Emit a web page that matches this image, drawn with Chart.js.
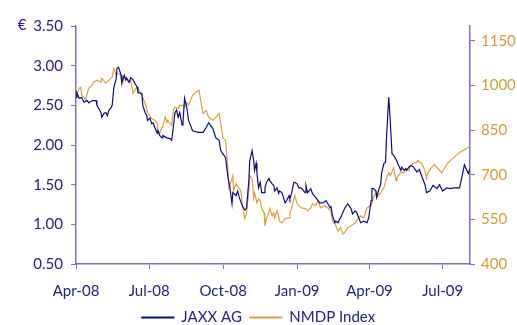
<!DOCTYPE html>
<html>
<head>
<meta charset="utf-8">
<script src="https://cdn.jsdelivr.net/npm/chart.js@4.4.1/dist/chart.umd.min.js"></script>
<style>
html, body { margin: 0; padding: 0; background: #fff; }
</style>
</head>
<body>
<canvas id="chart" width="517" height="325"></canvas>
<script>
// x values are days since 1 Apr 2008
const quarterDays = [0, 91, 183, 275, 365, 456]
const quarterLabels = ['Apr-08', 'Jul-08', 'Oct-08', 'Jan-09', 'Apr-09', 'Jul-09']
const priceTicks = [0.5, 1, 1.5, 2, 2.5, 3, 3.5]
const indexTicks = [400, 550, 700, 850, 1000, 1150]

const jaxxDays = [
    0, 1, 4, 7, 10, 14, 16, 20, 25, 26,
    31, 32, 35, 37, 39, 41, 43, 45, 47, 50,
    51, 53, 56, 57, 60, 62, 63, 66, 68, 71,
    76, 77, 82, 83, 86, 88, 89, 92, 94, 96,
    98, 101, 102, 104, 107, 108, 113, 117, 119, 121,
    123, 125, 127, 129, 132, 133, 135, 138, 140, 145,
    152, 158, 162, 165, 170, 174, 178, 180, 184, 186,
    189, 191, 194, 195, 199, 201, 203, 207, 210, 212,
    215, 216, 219, 221, 222, 224, 225, 227, 229, 231,
    234, 235, 237, 240, 241, 244, 246, 247, 250, 252,
    253, 256, 258, 260, 262, 265, 266, 268, 271, 272,
    275, 277, 280, 285, 286, 288, 292, 294, 298, 303,
    307, 311, 316, 317, 319, 322, 323, 326, 328, 329,
    334, 338, 340, 342, 344, 347, 349, 352, 354, 358,
    362, 364, 367, 368, 370, 373, 374, 376, 379, 380,
    383, 385, 386, 388, 389, 391, 393, 395, 399, 400,
    404, 405, 408, 410, 411, 414, 416, 419, 424, 427,
    431, 434, 436, 440, 444, 449, 452, 456, 461, 465,
    471, 477, 481, 483, 486, 488, 490
]
const jaxxPrice = [
    2.60, 2.66, 2.59, 2.60, 2.54, 2.56, 2.53, 2.56, 2.56, 2.50,
    2.41, 2.35, 2.40, 2.41, 2.37, 2.44, 2.46, 2.50, 2.72, 2.84,
    2.97, 2.98, 2.88, 2.79, 2.88, 2.82, 2.84, 2.79, 2.85, 2.82,
    2.73, 2.66, 2.65, 2.50, 2.41, 2.37, 2.31, 2.34, 2.27, 2.28,
    2.22, 2.15, 2.18, 2.12, 2.09, 2.12, 2.09, 2.08, 2.06, 2.22,
    2.40, 2.44, 2.35, 2.41, 2.25, 2.27, 2.59, 2.46, 2.31, 2.18,
    2.16, 2.16, 2.22, 2.28, 2.21, 2.09, 2.06, 1.93, 1.87, 1.84,
    1.59, 1.49, 1.26, 1.40, 1.36, 1.42, 1.34, 1.23, 1.18, 1.20,
    1.55, 1.80, 1.93, 1.80, 1.68, 1.77, 1.65, 1.46, 1.53, 1.40,
    1.40, 1.46, 1.53, 1.58, 1.55, 1.51, 1.49, 1.42, 1.46, 1.39,
    1.42, 1.40, 1.34, 1.27, 1.30, 1.36, 1.32, 1.39, 1.53, 1.53,
    1.51, 1.46, 1.46, 1.40, 1.49, 1.40, 1.45, 1.39, 1.34, 1.27,
    1.27, 1.30, 1.21, 1.23, 1.11, 1.02, 1.04, 1.02, 1.07, 1.08,
    1.20, 1.26, 1.23, 1.20, 1.13, 1.17, 1.15, 1.07, 1.02, 1.04,
    1.02, 1.08, 1.30, 1.45, 1.45, 1.42, 1.34, 1.42, 1.51, 1.64,
    1.77, 1.78, 2.06, 2.44, 2.60, 2.27, 1.89, 1.87, 1.80, 1.77,
    1.68, 1.72, 1.68, 1.70, 1.68, 1.72, 1.74, 1.73, 1.66, 1.69,
    1.58, 1.50, 1.40, 1.42, 1.49, 1.45, 1.50, 1.42, 1.46, 1.45,
    1.46, 1.46, 1.65, 1.75, 1.68, 1.64, 1.70
]

const nmdpDays = [
    0, 1, 4, 6, 7, 10, 12, 14, 16, 20,
    22, 26, 31, 32, 37, 41, 43, 45, 47, 50,
    51, 56, 57, 60, 63, 66, 68, 71, 73, 76,
    80, 83, 86, 89, 94, 98, 101, 102, 104, 107,
    108, 111, 113, 114, 117, 119, 121, 123, 127, 129,
    133, 135, 138, 140, 145, 149, 153, 155, 158, 162,
    165, 170, 174, 178, 180, 183, 186, 189, 190, 193,
    195, 196, 199, 203, 205, 207, 210, 212, 215, 216,
    219, 221, 222, 225, 227, 229, 231, 234, 235, 237,
    240, 241, 244, 246, 247, 250, 252, 253, 256, 258,
    260, 265, 266, 268, 271, 272, 275, 277, 280, 285,
    288, 292, 294, 298, 301, 304, 309, 313, 317, 319,
    322, 326, 329, 332, 334, 338, 342, 347, 349, 354,
    358, 362, 367, 370, 373, 374, 379, 383, 386, 389,
    391, 395, 398, 399, 404, 408, 410, 414, 416, 419,
    424, 425, 430, 434, 436, 437, 442, 446, 450, 455,
    458, 462, 467, 471, 477, 481, 486, 490
]
const nmdpIndex = [
    974, 967, 991, 994, 967, 960, 950, 974, 991, 1001,
    1011, 1018, 1011, 1024, 1008, 1018, 1024, 1028, 1058, 1035,
    1041, 1035, 1001, 1024, 1028, 1011, 1018, 974, 984, 994,
    977, 960, 940, 910, 889, 883, 873, 849, 839, 859,
    866, 893, 876, 883, 873, 866, 916, 927, 923, 933,
    933, 927, 943, 933, 967, 977, 984, 950, 906, 916,
    893, 883, 893, 906, 873, 822, 815, 714, 657, 680,
    697, 646, 670, 653, 646, 596, 552, 572, 646, 697,
    687, 623, 640, 606, 619, 613, 586, 572, 528, 555,
    572, 586, 562, 572, 555, 579, 562, 545, 538, 545,
    552, 555, 572, 586, 619, 630, 603, 596, 589, 586,
    579, 589, 603, 596, 613, 589, 596, 589, 579, 545,
    535, 511, 522, 501, 505, 522, 528, 538, 545, 562,
    555, 589, 596, 623, 640, 623, 640, 657, 687, 707,
    697, 724, 680, 690, 707, 707, 721, 714, 731, 738,
    741, 748, 738, 714, 687, 704, 724, 734, 721, 707,
    721, 738, 751, 761, 775, 781, 788, 798
]

const navy = '#0c0c86'
const gold = '#d9a23e'
const navyText = '#22228c'
const goldText = '#d39c3a'
const axisColor = '#7474c2'
const fontFamily = 'Lato, "Open Sans", sans-serif'

function toPoints(xs, ys) {
    return xs.map((d, i) => ({ x: d, y: ys[i] }))
}

// euro sign over the left axis
const euroLabel = {
    id: 'euroLabel',
    afterDraw(chart) {
        const ctx = chart.ctx
        ctx.save()
        ctx.font = '15px ' + fontFamily
        ctx.fillStyle = navyText
        ctx.textAlign = 'center'
        ctx.textBaseline = 'middle'
        ctx.fillText('€', 22, 25)
        ctx.restore()
    }
}

const ctx = document.getElementById('chart').getContext('2d')
const chart = new Chart(ctx, {
    type: 'line',
    data: {
        datasets: [{
            label: 'JAXX AG',
            data: toPoints(jaxxDays, jaxxPrice),
            yAxisID: 'y',
            borderColor: navy,
            backgroundColor: navy,
            borderWidth: 1.2,
            pointRadius: 0,
            tension: 0
        }, {
            label: 'NMDP Index',
            data: toPoints(nmdpDays, nmdpIndex),
            yAxisID: 'y1',
            borderColor: gold,
            backgroundColor: gold,
            borderWidth: 1.2,
            pointRadius: 0,
            tension: 0
        }]
    },
    options: {
        responsive: false,
        animation: false,
        layout: { padding: { top: 26, left: 0, right: 0, bottom: -10 } },
        plugins: {
            legend: {
                position: 'bottom',
                labels: {
                    boxWidth: 32,
                    boxHeight: 1,
                    color: navyText,
                    padding: 8,
                    font: { size: 15, family: fontFamily }
                }
            },
            tooltip: { enabled: false }
        },
        scales: {
            x: {
                type: 'linear',
                min: 0,
                max: 490,
                afterBuildTicks: (scale) => { scale.ticks = quarterDays.map(v => ({ value: v })) },
                afterFit: (scale) => { scale.height = 38 },
                ticks: {
                    callback: (v) => quarterLabels[quarterDays.indexOf(v)],
                    color: navyText,
                    font: { size: 15, family: fontFamily },
                    padding: 13,
                    maxRotation: 0,
                    autoSkip: false
                },
                grid: { drawOnChartArea: false, tickLength: 5, color: axisColor },
                border: { color: axisColor, width: 1.5 }
            },
            y: {
                position: 'left',
                min: 0.5,
                max: 3.5,
                afterBuildTicks: (scale) => { scale.ticks = priceTicks.map(v => ({ value: v })) },
                afterFit: (scale) => { scale.width = 76 },
                ticks: {
                    callback: (v) => v.toFixed(2),
                    color: navyText,
                    font: { size: 15, family: fontFamily },
                    padding: 8
                },
                grid: { drawOnChartArea: false, tickLength: 5, color: axisColor },
                border: { color: axisColor, width: 1.5 }
            },
            y1: {
                position: 'right',
                min: 400,
                max: 1200,
                afterBuildTicks: (scale) => { scale.ticks = indexTicks.map(v => ({ value: v })) },
                afterFit: (scale) => { scale.width = 47 },
                ticks: {
                    callback: (v) => String(v),
                    color: goldText,
                    font: { size: 15, family: fontFamily },
                    padding: 6
                },
                grid: { drawOnChartArea: false, tickLength: 5, color: axisColor },
                border: { color: axisColor, width: 1.5 }
            }
        }
    },
    plugins: [euroLabel]
})
</script>
</body>
</html>
